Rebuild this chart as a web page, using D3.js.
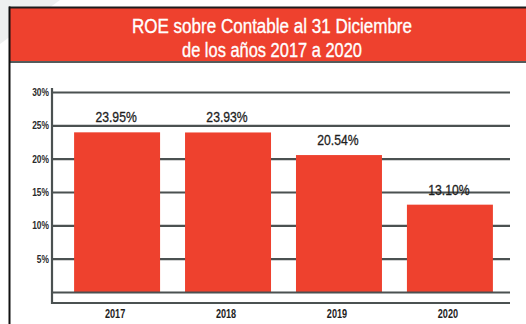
<!DOCTYPE html>
<html>
<head>
<meta charset="utf-8">
<script src="https://cdn.jsdelivr.net/npm/d3@7"></script>
<style>
  html, body { margin: 0; padding: 0; background: #ffffff; }
  svg { display: block; }
  .cond { font-family: "Liberation Sans", Arial, sans-serif; }
</style>
</head>
<body>
<svg id="chart" width="526" height="324"></svg>
<script>
// ROE data, one value per year
const years = ["2017", "2018", "2019", "2020"];
const roeValues = [23.95, 23.93, 20.54, 13.10];
const valueLabels = ["23.95%", "23.93%", "20.54%", "13.10%"];
const tickValues = [5, 10, 15, 20, 25, 30];
const tickLabels = ["5%", "10%", "15%", "20%", "25%", "30%"];
const titleLines = ["ROE sobre Contable al 31 Diciembre", "de los años 2017 a 2020"];

const W = 526, H = 324;
const RED = "#ee412e";
const GRID = "#4b5151";

const svg = d3.select("#chart");

// squeeze text horizontally to get a condensed face
function condense(sel, factor) {
  sel.each(function () {
    const w = this.getComputedTextLength();
    d3.select(this)
      .attr("textLength", w * factor)
      .attr("lengthAdjust", "spacingAndGlyphs");
  });
}

// soft grey corner shape behind the header
svg.append("path")
  .attr("d", "M0,0 L60,0 L0,44 Z")
  .attr("fill", "#eef0f0");

// header band
svg.append("rect")
  .attr("x", 9).attr("y", 8).attr("width", W - 9).attr("height", 54)
  .attr("fill", RED);
svg.append("line")
  .attr("x1", 9).attr("x2", W).attr("y1", 7.5).attr("y2", 7.5)
  .attr("stroke", "#1c1c1c").attr("stroke-width", 2);
svg.append("line")
  .attr("x1", 9).attr("x2", W).attr("y1", 62).attr("y2", 62)
  .attr("stroke", "#545b5b").attr("stroke-width", 2);
// left frame rule
svg.append("line")
  .attr("x1", 9.5).attr("x2", 9.5).attr("y1", 6.5).attr("y2", H)
  .attr("stroke", "#111").attr("stroke-width", 2);

// title
const titleWidths = [280, 180];
const titleY = [33, 57];
titleLines.forEach((t, i) => {
  svg.append("text")
    .attr("class", "cond")
    .attr("x", 272).attr("y", titleY[i])
    .attr("text-anchor", "middle")
    .attr("font-size", 20)
    .attr("fill", "#ffffff")
    .attr("stroke", "#ffffff").attr("stroke-width", 0.35)
    .attr("textLength", titleWidths[i])
    .attr("lengthAdjust", "spacingAndGlyphs")
    .text(t);
});

// scales
const y = d3.scaleLinear().domain([0, 30]).range([292, 92]);
const x = d3.scaleBand().domain(years).range([63, 504])
  .paddingInner(0.225).paddingOuter(0.1);

const gridX0 = 52, gridX1 = 510;

// horizontal gridlines via a left axis with full-width ticks
const yAxis = d3.axisLeft(y)
  .tickValues(tickValues)
  .tickSize(-(gridX1 - gridX0))
  .tickFormat((d, i) => tickLabels[i]);
const gy = svg.append("g")
  .attr("transform", `translate(${gridX0},0)`)
  .call(yAxis);
gy.select(".domain").remove();
gy.selectAll(".tick line")
  .attr("stroke", GRID).attr("stroke-width", 2.2);
gy.selectAll(".tick text")
  .attr("class", "cond")
  .attr("x", -3)
  .attr("font-size", 10.5)
  .attr("font-weight", "bold")
  .attr("fill", "#2a2a2a")
  .call(condense, 0.8);

// bars
svg.append("g").selectAll("rect")
  .data(years)
  .join("rect")
  .attr("x", d => x(d))
  .attr("width", x.bandwidth())
  .attr("y", (d, i) => y(roeValues[i]))
  .attr("height", (d, i) => y(0) - y(roeValues[i]))
  .attr("fill", RED);

// baseline and lower axis rule
svg.append("line")
  .attr("x1", gridX0).attr("x2", gridX1).attr("y1", y(0) + 0.5).attr("y2", y(0) + 0.5)
  .attr("stroke", GRID).attr("stroke-width", 2.2);
svg.append("line")
  .attr("x1", gridX0 - 1).attr("x2", gridX1).attr("y1", 303).attr("y2", 303)
  .attr("stroke", GRID).attr("stroke-width", 2.2);
// vertical axis rule
svg.append("line")
  .attr("x1", gridX0).attr("x2", gridX0).attr("y1", 88).attr("y2", 304)
  .attr("stroke", GRID).attr("stroke-width", 2.2);

// value labels
svg.append("g").selectAll("text")
  .data(years)
  .join("text")
  .attr("class", "cond")
  .attr("x", d => x(d) + x.bandwidth() / 2 - 1)
  .attr("y", (d, i) => y(roeValues[i]) - 10)
  .attr("text-anchor", "middle")
  .attr("font-size", 14.5)
  .attr("fill", "#1e1e1e")
  .attr("stroke", "#1e1e1e").attr("stroke-width", 0.3)
  .text((d, i) => valueLabels[i])
  .call(condense, 0.84);

// year labels
svg.append("g").selectAll("text")
  .data(years)
  .join("text")
  .attr("class", "cond")
  .attr("x", d => x(d) + x.bandwidth() / 2 - 2)
  .attr("y", 318)
  .attr("text-anchor", "middle")
  .attr("font-size", 12)
  .attr("font-weight", "bold")
  .attr("fill", "#1e1e1e")
  .text(d => d)
  .call(condense, 0.76);
</script>
</body>
</html>
